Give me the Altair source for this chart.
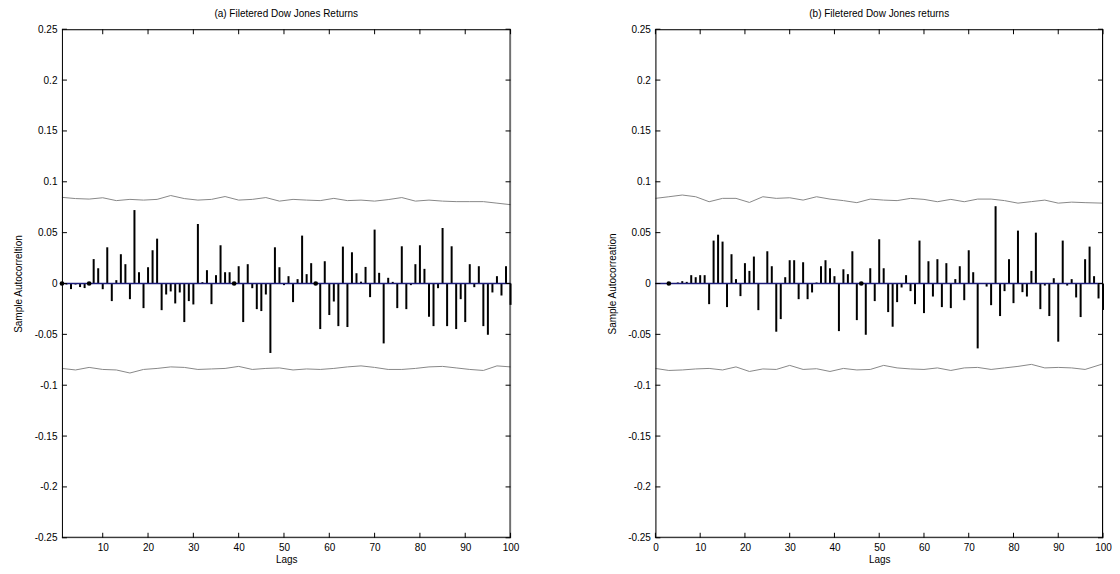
import altair as alt
import pandas as pd

# ---------------- data ----------------
lags_a = list(range(1, 101))
acf_a = [0.0, -0.001, -0.0055, -0.001, -0.0035, -0.0045, 0.0, 0.024, 0.015, -0.0056,
         0.0356, -0.0173, 0.0033, 0.0288, 0.019, -0.0154, 0.0722, 0.0111, -0.0242, 0.016,
         0.0327, 0.0441, -0.0262, -0.0108, -0.0078, -0.0196, -0.0088, -0.0379, -0.0173, -0.0206,
         0.0585, 0.0013, 0.0131, -0.0203, 0.0082, 0.0376, 0.0111, 0.0111, 0.0, 0.017,
         -0.0379, 0.019, -0.0046, -0.0252, -0.0271, -0.0108, -0.0683, 0.0356, 0.016, -0.0016,
         0.0072, -0.0183, 0.0043, 0.0471, 0.0092, 0.02, 0.0, -0.0448, 0.0219, -0.031,
         -0.0177, -0.0419, 0.0363, -0.0428, 0.0307, 0.0101, 0.0018, 0.0163, -0.0134, 0.053,
         0.0105, -0.0589, 0.0056, 0.0016, -0.0242, 0.0366, -0.0252, -0.0016, 0.019, 0.0376,
         0.0144, -0.0327, -0.0419, -0.0046, 0.0546, -0.0419, 0.0366, -0.0448, -0.0154, -0.0379,
         0.019, -0.0036, 0.017, -0.0419, -0.0504, -0.0088, 0.0072, -0.0118, 0.017, -0.021]
dots_a = [1, 7, 39, 57]

lags_b = list(range(3, 101))
acf_b = [0.0, 0.0005, 0.001, 0.0023, 0.0016, 0.0082, 0.0062, 0.0082, 0.0082, -0.0203,
         0.0422, 0.048, 0.0412, -0.0232, 0.0288, 0.0043, -0.0124, 0.02, 0.0124, 0.0265,
         -0.0262, 0.0005, 0.0317, 0.017, -0.0474, -0.035, 0.0062, 0.0229, 0.0229, -0.0154,
         0.0209, -0.0154, -0.0088, 0.001, 0.017, 0.0229, 0.015, 0.0072, -0.0468, 0.014,
         0.0092, 0.0317, -0.036, 0.0, -0.0504, 0.015, -0.0173, 0.0435, 0.015, -0.0281,
         -0.0425, -0.0183, -0.0039, 0.0082, -0.0075, -0.0203, 0.0422, -0.0291, 0.0219, -0.0128,
         0.0239, -0.0232, 0.02, -0.0242, 0.0043, 0.017, -0.0164, 0.0327, 0.0111, -0.0638,
         0.0005, -0.003, -0.0213, 0.076, -0.032, -0.0075, 0.0239, -0.0193, 0.052, -0.0085,
         -0.0128, 0.0124, 0.05, -0.0252, -0.002, -0.032, 0.0052, -0.0572, 0.0422, -0.002,
         0.0043, -0.0137, -0.033, 0.0239, 0.0363, 0.0072, -0.0147, -0.026]
dots_b = [3, 46]

band_lags_a = list(range(1, 101, 3))
upper_a = [0.0847, 0.0835, 0.083, 0.0843, 0.0815, 0.0827, 0.082, 0.0827, 0.0865, 0.0835, 0.082, 0.0827,
           0.0855, 0.082, 0.0827, 0.0845, 0.081, 0.0827, 0.082, 0.0815, 0.0837, 0.0815, 0.082,
           0.081, 0.0825, 0.0845, 0.081, 0.082, 0.081, 0.0805, 0.0805, 0.0805, 0.079, 0.0775]
lower_a = [-0.0835, -0.085, -0.0825, -0.0845, -0.085, -0.088, -0.0845, -0.0835, -0.082, -0.0825, -0.0845, -0.084,
           -0.0835, -0.0815, -0.0845, -0.0835, -0.083, -0.085, -0.084, -0.0845, -0.0835, -0.082, -0.081,
           -0.0825, -0.0845, -0.0845, -0.0835, -0.082, -0.0815, -0.083, -0.0845, -0.0855, -0.081, -0.082]

band_lags_b = list(range(0, 99, 3)) + [100]
upper_b = [0.0837, 0.0853, 0.087, 0.0853, 0.0804, 0.0837, 0.0837, 0.0797, 0.0853, 0.0837, 0.0843, 0.082,
           0.0853, 0.083, 0.0815, 0.0795, 0.083, 0.082, 0.0815, 0.0837, 0.0827, 0.0804, 0.0827,
           0.0804, 0.083, 0.083, 0.0815, 0.079, 0.0805, 0.082, 0.079, 0.08, 0.0795, 0.079]
lower_b = [-0.0835, -0.0855, -0.085, -0.084, -0.0835, -0.085, -0.082, -0.0865, -0.084, -0.0845, -0.0805, -0.0845,
           -0.0838, -0.0865, -0.0835, -0.085, -0.0845, -0.0805, -0.083, -0.084, -0.0845, -0.083, -0.0855,
           -0.083, -0.0825, -0.0845, -0.083, -0.0815, -0.0795, -0.083, -0.0825, -0.083, -0.0845, -0.079]

y_ticks = [-0.25, -0.2, -0.15, -0.1, -0.05, 0, 0.05, 0.1, 0.15, 0.2, 0.25]
x_ticks_a = [10, 20, 30, 40, 50, 60, 70, 80, 90, 100]
x_ticks_b = [0, 10, 20, 30, 40, 50, 60, 70, 80, 90, 100]

FONT = "Liberation Sans"
H = 509
TICK = 5


def panel(title, ytitle, lags, acf, dots, blags, up, lo, xdomain, xticks, width):
    xs = alt.Scale(domain=xdomain, nice=False, zero=False)
    ys = alt.Scale(domain=[-0.25, 0.25], nice=False)
    common = dict(ticks=False, domain=False, grid=False, labelExpr="'' + datum.value",
                  labelFont=FONT, titleFont=FONT, labelFontSize=10, titleFontSize=10,
                  titleFontWeight="normal", labelColor="black", titleColor="black")
    xaxis = alt.Axis(values=xticks, title="Lags", labelPadding=5, titlePadding=2,
                     labelFlush=False, **common)
    yaxis = alt.Axis(values=y_ticks, title=ytitle, labelPadding=5, titlePadding=10.5, **common)

    df = pd.DataFrame({"lag": lags, "acf": acf})
    band = pd.DataFrame({"lag": blags + blags,
                         "val": up + lo,
                         "which": ["upper"] * len(blags) + ["lower"] * len(blags)})
    dd = pd.DataFrame({"lag": dots, "acf": [0] * len(dots)})
    xt = pd.DataFrame({"lag": xticks})
    yt = pd.DataFrame({"acf": y_ticks})
    zero_df = pd.DataFrame({"acf": [0]})
    one = pd.DataFrame({"k": [0]})

    X = alt.X("lag:Q", scale=xs, axis=xaxis)
    Y = alt.Y("acf:Q", scale=ys, axis=yaxis)

    bands = alt.Chart(band).mark_line(color="#888888", strokeWidth=1).encode(
        x=X, y=alt.Y("val:Q", scale=ys, axis=yaxis), detail="which:N")
    stems = alt.Chart(df).mark_rule(color="black", strokeWidth=2).encode(
        x=X, y=Y, y2=alt.datum(0))
    zero = alt.Chart(zero_df).mark_rule(color="#1c1c7a", strokeWidth=1.5).encode(y=Y)
    pts = alt.Chart(dd).mark_circle(color="black", size=22, opacity=1).encode(x=X, y=Y)
    xt_bot = alt.Chart(xt).mark_rule(color="black").encode(
        x=X, y=alt.value(H), y2=alt.value(H - TICK))
    xt_top = alt.Chart(xt).mark_rule(color="black").encode(
        x=X, y=alt.value(0), y2=alt.value(TICK))
    yt_left = alt.Chart(yt).mark_rule(color="black").encode(
        y=Y, x=alt.value(0), x2=alt.value(TICK))
    yt_right = alt.Chart(yt).mark_rule(color="black").encode(
        y=Y, x=alt.value(width), x2=alt.value(width - TICK))
    fr = alt.Chart(one).mark_rule(color="black", strokeWidth=1)
    frame = [
        fr.encode(x=alt.value(0), x2=alt.value(width), y=alt.value(0.5)),
        fr.encode(x=alt.value(0), x2=alt.value(width), y=alt.value(H - 0.5)),
        fr.encode(x=alt.value(0.5), y=alt.value(0), y2=alt.value(H)),
        fr.encode(x=alt.value(width - 0.5), y=alt.value(0), y2=alt.value(H)),
    ]

    return alt.layer(stems, bands, zero, pts, xt_bot, xt_top, yt_left, yt_right, *frame).properties(
        width=width, height=H,
        title=alt.TitleParams(title, fontSize=10, fontWeight="normal", font=FONT,
                              color="black", offset=5, anchor="middle"))


pa = panel("(a) Filetered Dow Jones Returns", "Sample Autocorreltion",
           lags_a, acf_a, dots_a, band_lags_a, upper_a, lower_a, [1, 100], x_ticks_a, 449)
pb = panel("(b) Filetered Dow Jones returns", "Sample Autocorreation",
           lags_b, acf_b, dots_b, band_lags_b, upper_b, lower_b, [0, 100], x_ticks_b, 448)

chart = alt.hconcat(pa, pb, spacing=87).properties(
    padding={"left": 5, "top": 0, "right": 0, "bottom": 0}
).configure_view(stroke=None).configure(background="white")

chart.save("out.html", embed_options={"renderer": "svg", "actions": False})
